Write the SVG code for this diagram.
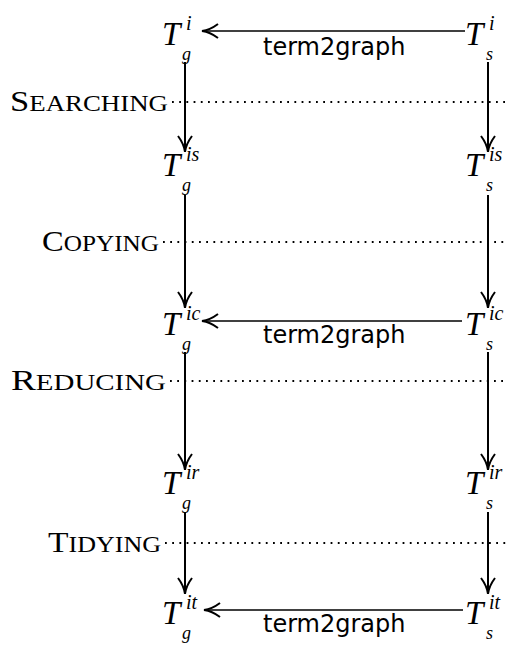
<svg xmlns="http://www.w3.org/2000/svg" width="511" height="649" viewBox="0 0 511 649">
<style>
.T{font-family:"Liberation Serif",serif;font-style:italic;font-size:33px;fill:#000}
.sup{font-family:"Liberation Serif",serif;font-style:italic;font-size:20px;fill:#000}
.sub{font-family:"Liberation Serif",serif;font-style:italic;font-size:18px;fill:#000}
.lbl{font-family:"Liberation Serif",serif;font-size:29px;fill:#000}
.sc{font-size:22.5px}
.fn{font-family:"DejaVu Sans",sans-serif;font-size:24px;fill:#000}
.arr{stroke:#000;stroke-width:2;fill:none;marker-end:url(#ah)}
.dot{stroke:#000;stroke-width:1.8;stroke-dasharray:1.8 5.4;fill:none}
</style>
<defs>
<marker id="ah" viewBox="0 0 20 20" refX="18" refY="10" markerWidth="20" markerHeight="20" markerUnits="userSpaceOnUse" orient="auto">
<path d="M2,3 Q10,9 18,10 Q10,11 2,17" stroke="#000" stroke-width="2" fill="none"/>
</marker>
</defs>
<g id="labels">
<text class="lbl" x="10" y="111" textLength="158" lengthAdjust="spacingAndGlyphs">S<tspan class="sc">EARCHING</tspan></text>
<text class="lbl" x="42" y="251" textLength="117" lengthAdjust="spacingAndGlyphs">C<tspan class="sc">OPYING</tspan></text>
<text class="lbl" x="11" y="390" textLength="155" lengthAdjust="spacingAndGlyphs">R<tspan class="sc">EDUCING</tspan></text>
<text class="lbl" x="48" y="552" textLength="113" lengthAdjust="spacingAndGlyphs">T<tspan class="sc">IDYING</tspan></text>
</g>
<g id="connectors">
<line class="dot" x1="172" y1="102" x2="508" y2="102"/>
<line class="dot" x1="163" y1="242" x2="508" y2="242"/>
<line class="dot" x1="170" y1="381" x2="508" y2="381"/>
<line class="dot" x1="165" y1="543" x2="508" y2="543"/>
<line class="arr" x1="185" y1="62" x2="185" y2="152"/>
<line class="arr" x1="185" y1="195" x2="185" y2="308"/>
<line class="arr" x1="185" y1="352" x2="185" y2="470"/>
<line class="arr" x1="185" y1="512" x2="185" y2="594"/>
<line class="arr" x1="488" y1="62" x2="488" y2="152"/>
<line class="arr" x1="488" y1="195" x2="488" y2="308"/>
<line class="arr" x1="488" y1="352" x2="488" y2="470"/>
<line class="arr" x1="488" y1="512" x2="488" y2="594"/>
<line class="arr" x1="465" y1="31" x2="202" y2="31" style="stroke-width:1.6"/>
<line class="arr" x1="462" y1="321" x2="202" y2="321" style="stroke-width:1.6"/>
<line class="arr" x1="463" y1="610" x2="204" y2="610" style="stroke-width:1.6"/>
<text class="fn" x="263" y="55">term2graph</text>
<text class="fn" x="263" y="343">term2graph</text>
<text class="fn" x="263" y="632">term2graph</text>
</g>
<g id="Tgi"><text class="T" x="162" y="45">T</text><text class="sup" x="186" y="30">i</text><text class="sub" x="182" y="60">g</text></g>
<g id="Tsi"><text class="T" x="465" y="45">T</text><text class="sup" x="489" y="30">i</text><text class="sub" x="486" y="60">s</text></g>
<g id="Tgis"><text class="T" x="162" y="176">T</text><text class="sup" x="186" y="161">is</text><text class="sub" x="182" y="191">g</text></g>
<g id="Tsis"><text class="T" x="465" y="176">T</text><text class="sup" x="489" y="161">is</text><text class="sub" x="486" y="191">s</text></g>
<g id="Tgic"><text class="T" x="162" y="335">T</text><text class="sup" x="186" y="320">ic</text><text class="sub" x="182" y="350">g</text></g>
<g id="Tsic"><text class="T" x="465" y="335">T</text><text class="sup" x="489" y="320">ic</text><text class="sub" x="486" y="350">s</text></g>
<g id="Tgir"><text class="T" x="162" y="494">T</text><text class="sup" x="186" y="479">ir</text><text class="sub" x="182" y="509">g</text></g>
<g id="Tsir"><text class="T" x="465" y="494">T</text><text class="sup" x="489" y="479">ir</text><text class="sub" x="486" y="509">s</text></g>
<g id="Tgit"><text class="T" x="162" y="624">T</text><text class="sup" x="186" y="609">it</text><text class="sub" x="182" y="639">g</text></g>
<g id="Tsit"><text class="T" x="465" y="624">T</text><text class="sup" x="489" y="609">it</text><text class="sub" x="486" y="639">s</text></g>
</svg>
